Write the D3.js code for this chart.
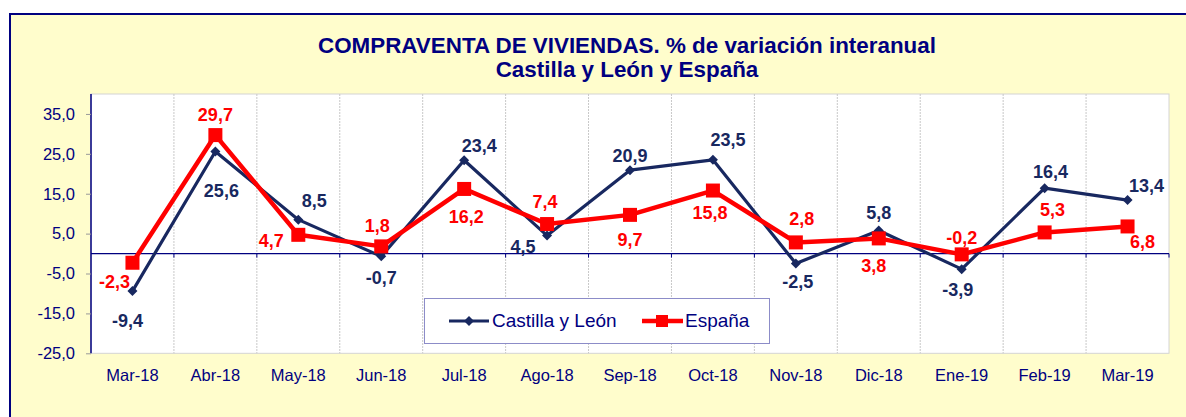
<!DOCTYPE html>
<html><head><meta charset="utf-8">
<script src="https://cdn.jsdelivr.net/npm/d3@7"></script>
<style>body{margin:0;background:#fff;}svg{display:block;font-family:Arial,"Liberation Sans",sans-serif;}</style>
</head><body>
<svg id="c" width="1186" height="417"></svg>
<script>
const categories = ["Mar-18","Abr-18","May-18","Jun-18","Jul-18","Ago-18","Sep-18","Oct-18","Nov-18","Dic-18","Ene-19","Feb-19","Mar-19"];
const castillaLeon = [-9.4, 25.6, 8.5, -0.7, 23.4, 4.5, 20.9, 23.5, -2.5, 5.8, -3.9, 16.4, 13.4];
const espana = [-2.3, 29.7, 4.7, 1.8, 16.2, 7.4, 9.7, 15.8, 2.8, 3.8, -0.2, 5.3, 6.8];
const yTicks = [-25, -15, -5, 5, 15, 25, 35];
const titleLines = ["COMPRAVENTA DE VIVIENDAS. % de variación interanual", "Castilla y León y España"];
const seriesNames = ["Castilla y León", "España"];

// label offsets (layout only, pixels relative to the point)
const clLabelOffset = [[-5,29],[6,39],[16,-19],[0,21],[15,-15],[-24,11],[0,-15],[15,-20],[2,18],[0,-18],[-4,20],[6,-17],[19,-15]];
const esLabelOffset = [[-18,19],[0,-21],[-27,6],[-4,-21],[2,28],[-2,-23],[0,25],[-3,22],[6,-24],[-5,27],[0,-17],[8,-23],[15,15]];

const navy = "#000080", clColor = "#182860", esColor = "#FF0000";
const svg = d3.select("#c");
const fmt = v => d3.format(".1f")(v).replace("\u2212", "-").replace(".", ",");

// frame
svg.append("rect").attr("x",10).attr("y",14).attr("width",1200).attr("height",420)
  .attr("fill","#FFFDCC").attr("stroke",navy).attr("stroke-width",2);

const L = 91, R = 1169, T = 94, B = 353.3;
const x = d3.scaleBand().domain(categories).range([L, R]);
const y = d3.scaleLinear().domain([-25, 40]).range([B, T]);

svg.append("rect").attr("x",L).attr("y",T).attr("width",R-L).attr("height",B-T)
  .attr("fill","#fff").attr("stroke","#d4d4d4").attr("stroke-width",1);

// vertical gridlines at category boundaries
const bounds = categories.slice(1).map(c => x(c));
svg.append("g").selectAll("line").data(bounds).join("line")
  .attr("x1",d=>d).attr("x2",d=>d).attr("y1",T).attr("y2",B)
  .attr("stroke","#c8c8c8").attr("stroke-width",1).attr("stroke-dasharray","2,1");

// zero axis line with small ticks
svg.append("line").attr("x1",L).attr("x2",R).attr("y1",y(0)).attr("y2",y(0)).attr("stroke",navy).attr("stroke-width",1.2);
svg.append("g").selectAll("line").data(bounds.concat([R])).join("line")
  .attr("x1",d=>d).attr("x2",d=>d).attr("y1",y(0)).attr("y2",y(0)+4).attr("stroke",navy).attr("stroke-width",1);

// y axis
const yAxis = d3.axisLeft(y).tickValues(yTicks).tickFormat(fmt).tickSize(5).tickPadding(11);
const gy = svg.append("g").attr("transform",`translate(${L},0)`).call(yAxis);
gy.select(".domain").attr("stroke",navy).attr("stroke-width",1.5).attr("d",`M0,${T}V${B}`);
gy.selectAll(".tick line").attr("stroke","#999");
gy.selectAll("text").attr("fill",navy).attr("font-size","16.5px").attr("font-family","Arial,'Liberation Sans',sans-serif");

// x labels
svg.append("g").selectAll("text").data(categories).join("text")
  .attr("x",d=>x(d)+x.bandwidth()/2).attr("y",381).attr("text-anchor","middle")
  .attr("fill",navy).attr("font-size","16.5px").text(d=>d);

// title
svg.append("g").selectAll("text").data(titleLines).join("text")
  .attr("x",627).attr("y",(d,i)=>53+i*24).attr("text-anchor","middle")
  .attr("fill",navy).attr("font-weight","bold").attr("font-size","22.4px").text(d=>d);

const cx = i => x(categories[i]) + x.bandwidth()/2;
const line = d3.line().x((d,i)=>cx(i)).y(d=>y(d));

// Castilla y León
svg.append("path").datum(castillaLeon).attr("d",line).attr("fill","none")
  .attr("stroke",clColor).attr("stroke-width",3.2).attr("stroke-linejoin","round");
svg.append("g").selectAll("path").data(castillaLeon).join("path")
  .attr("transform",(d,i)=>`translate(${cx(i)},${y(d)})`)
  .attr("d","M0,-5L5,0L0,5L-5,0Z").attr("fill",clColor);

// España
svg.append("path").datum(espana).attr("d",line).attr("fill","none")
  .attr("stroke",esColor).attr("stroke-width",4.5).attr("stroke-linejoin","round");
svg.append("g").selectAll("rect").data(espana).join("rect")
  .attr("x",(d,i)=>cx(i)-7).attr("y",d=>y(d)-7).attr("width",14).attr("height",14).attr("fill",esColor);

// data labels
svg.append("g").selectAll("text").data(castillaLeon).join("text")
  .attr("x",(d,i)=>cx(i)+clLabelOffset[i][0]).attr("y",(d,i)=>y(d)+clLabelOffset[i][1]).attr("dy","0.36em")
  .attr("text-anchor","middle").attr("fill",clColor).attr("font-weight","bold").attr("font-size","18px").text(fmt);
svg.append("g").selectAll("text").data(espana).join("text")
  .attr("x",(d,i)=>cx(i)+esLabelOffset[i][0]).attr("y",(d,i)=>y(d)+esLabelOffset[i][1]).attr("dy","0.36em")
  .attr("text-anchor","middle").attr("fill",esColor).attr("font-weight","bold").attr("font-size","18px").text(fmt);

// legend
const lg = svg.append("g");
lg.append("rect").attr("x",424.5).attr("y",298.5).attr("width",345).attr("height",45)
  .attr("fill","#fff").attr("stroke","#8C8CC8").attr("stroke-width",1);
lg.append("line").attr("x1",449).attr("x2",489).attr("y1",321).attr("y2",321).attr("stroke",clColor).attr("stroke-width",3.2);
lg.append("path").attr("transform","translate(469,321)").attr("d","M0,-5L5,0L0,5L-5,0Z").attr("fill",clColor);
lg.append("text").attr("x",492).attr("y",327).attr("fill",navy).attr("font-size","19px").text(seriesNames[0]);
lg.append("line").attr("x1",642).attr("x2",683).attr("y1",321).attr("y2",321).attr("stroke",esColor).attr("stroke-width",4.5);
lg.append("rect").attr("x",656).attr("y",315).attr("width",12).attr("height",12).attr("fill",esColor);
lg.append("text").attr("x",685).attr("y",327).attr("fill",navy).attr("font-size","19px").text(seriesNames[1]);
</script>
</body></html>
